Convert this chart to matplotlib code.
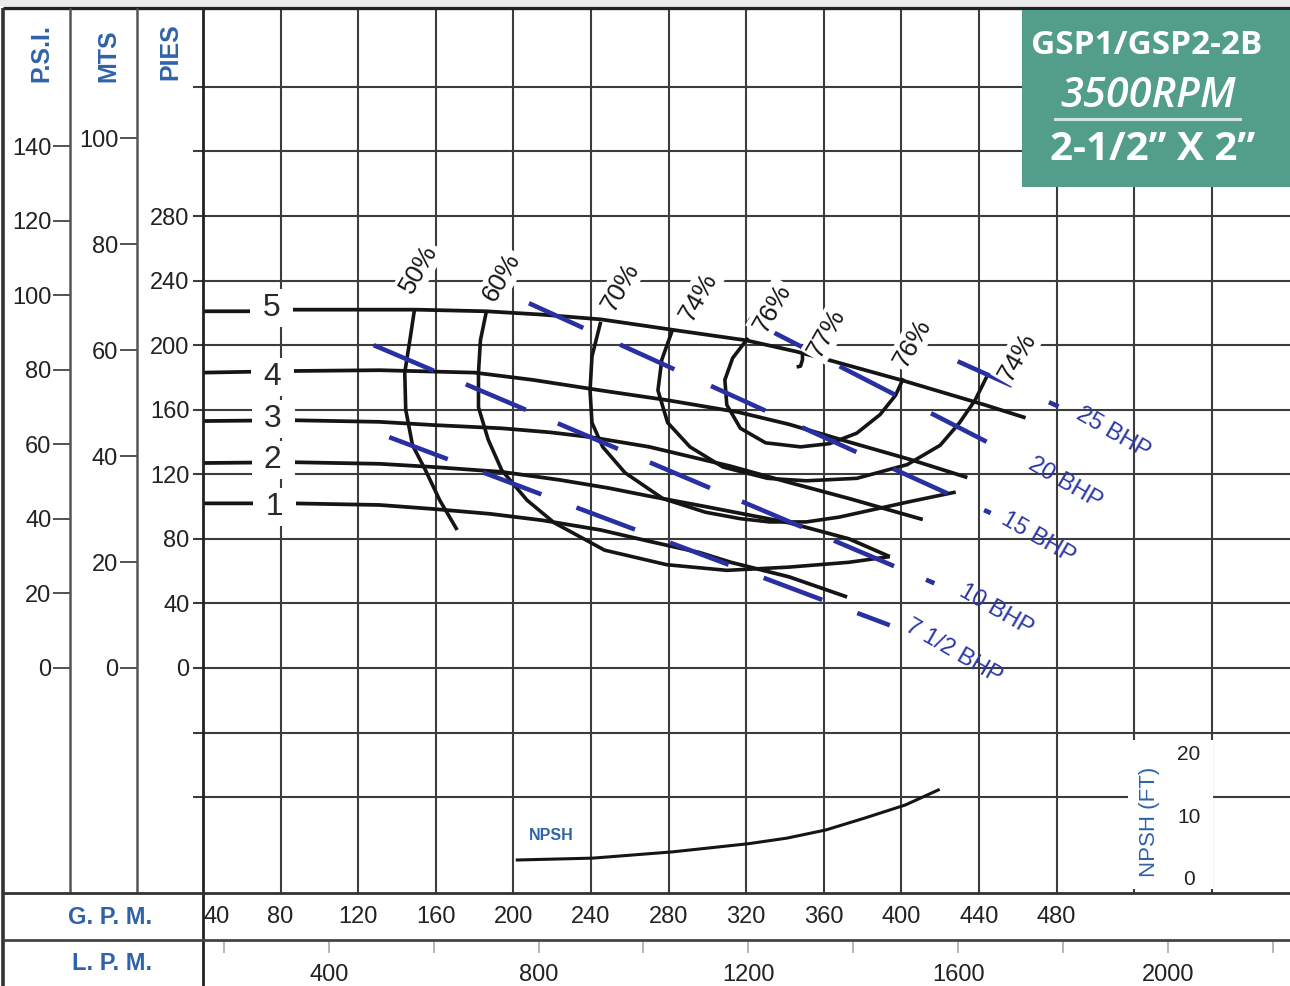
import matplotlib
matplotlib.use("Agg")
import matplotlib.pyplot as plt
import matplotlib.transforms as mtransforms
from matplotlib.lines import Line2D
from matplotlib.patches import Rectangle

plt.rcParams['font.family'] = ['Liberation Sans', 'DejaVu Sans']
plt.rcParams['lines.scale_dashes'] = False

# ---------------- data ----------------
gpm_labels = [40, 80, 120, 160, 200, 240, 280, 320, 360, 400, 440, 480]
gpm_grid = [80, 120, 160, 200, 240, 280, 320, 360, 400, 440, 480, 520, 560]
lpm_ticks = [200, 400, 600, 800, 1000, 1200, 1400, 1600, 1800, 2000, 2200]
lpm_labels = [400, 800, 1200, 1600, 2000]
pies_ticks = [-80, -40, 0, 40, 80, 120, 160, 200, 240, 280, 320, 360]
pies_labels = [0, 40, 80, 120, 160, 200, 240, 280]
psi_labels = [0, 20, 40, 60, 80, 100, 120, 140]
mts_labels = [0, 20, 40, 60, 80, 100]
npsh_labels = [0, 10, 20]

# impeller head curves (GPM, feet)
curve_names = ['5', '4', '3', '2', '1']
c5_gpm = [40, 63, 86, 130, 150, 186, 214, 245, 285, 320, 346, 365, 401, 443, 464]
c5_ft = [221, 221, 222, 222, 222, 221, 219, 216, 209, 203, 196, 190, 178, 163, 155]
c4_gpm = [40, 86, 131, 180, 210, 245, 279, 316, 342, 373, 405, 434]
c4_ft = [183, 184, 184.5, 183, 178.5, 172, 166, 158.5, 151, 140, 129, 118]
c3_gpm = [40, 86, 131, 159, 194, 219, 240, 270, 312, 342, 373, 411]
c3_ft = [153, 153.5, 152.5, 150.5, 148.5, 146, 143, 137, 125, 115, 105, 92]
c2_gpm = [40, 86, 131, 159, 194, 224, 249, 270, 299, 342, 373, 394]
c2_ft = [127, 127.5, 126.5, 124.5, 121.5, 116.5, 111.5, 106.5, 100, 90, 80, 69]
c1_gpm = [40, 86, 131, 159, 188, 215, 245, 270, 296, 312, 342, 372]
c1_ft = [102, 102, 101, 98.5, 95.5, 91.5, 85.5, 78.5, 71.5, 65.5, 56.5, 44]

# efficiency iso-lines
e50_gpm = [149, 147, 144, 144.5, 148, 154.5, 162, 171]
e50_ft = [222, 206, 183, 160, 138, 123, 104, 85.5]
e60_gpm = [186, 183, 182, 182, 187, 194, 207, 221, 247, 279, 310, 342, 373, 394]
e60_ft = [220.5, 203, 183, 161.5, 141.5, 122.5, 104, 90, 73, 64, 60.5, 62.5, 65.5, 69]
e70_gpm = [245, 240.5, 239.5, 240.5, 246, 257.5, 277, 299, 317, 332, 351, 368, 385, 404, 428]
e70_ft = [214.5, 193, 172, 152, 137, 121, 105, 96.5, 92.5, 90.5, 90.5, 93.5, 98, 103, 109]
e74_gpm = [282, 276.5, 274.5, 279.5, 291, 308, 331, 351, 377, 403, 420, 430, 438, 444]
e74_ft = [209.5, 191, 172, 152, 137, 124.5, 117.5, 116, 117.5, 126, 138, 152, 166, 180.5]
e76_gpm = [321, 313, 309, 310, 317, 330, 348, 363, 377, 389, 397, 401]
e76_ft = [204.5, 192, 178.5, 163, 148.5, 139.5, 137, 139, 145.5, 157, 169, 179.5]
e77_gpm = [349, 349, 348, 346]
e77_ft = [198, 191, 187, 186.5]
eff_labels = ['50%', '60%', '70%', '74%', '76%', '77%', '76%', '74%']

# brake horsepower lines (start, end)
bhp_labels = ['25 BHP', '20 BHP', '15 BHP', '10 BHP', '7 1/2 BHP']
bhp_gpm = [(429, 481), (321, 445), (208, 446), (128, 417), (136, 394)]
bhp_ft = [(190, 162), (216, 139.5), (226, 96), (200, 52.5), (143, 26.5)]

# NPSH required (GPM, feet)
npsh_gpm = [202, 241, 282, 321, 341, 361, 381, 402, 419]
npsh_ft = [3.2, 3.5, 4.5, 5.8, 6.7, 8.0, 9.9, 12.0, 14.4]

# ---------------- layout helpers ----------------
W, H = 1290, 986
fig = plt.figure(figsize=(W / 100, H / 100), dpi=100)
fig.patch.set_facecolor('white')


def fx(x):
    return x / W


def fy(y):
    return 1 - y / H


L, R, T, B = 203, 1290, 8, 893
BLUE_T = '#2f63a8'
BLUE_D = '#2830a2'
INK = '#151515'
GRID = '#3c3c3c'

ax = fig.add_axes([fx(L), fy(B), fx(R) - fx(L), fy(T) - fy(B)])
ax.set_xlim(40, 600.3)
ax.set_ylim(-139.4, 408.9)
for s in ax.spines.values():
    s.set_visible(False)
ax.set_axisbelow(True)
ax.set_xticks(gpm_grid)
ax.tick_params(axis='x', length=0, labelbottom=False)
ax.set_yticks(pies_ticks)
ax.set_yticklabels([str(v) if v in pies_labels else '' for v in pies_ticks])
ax.tick_params(axis='y', direction='out', length=7.5, width=1.5, color=GRID,
               labelsize=17, pad=2.2, labelcolor='#222')
ax.grid(True, color=GRID, lw=1.5)

# PSI and MTS scales
ylo, yhi = ax.get_ylim()
for xpos, xnext, factor, ticks in [(70, 137, 1 / 2.31, psi_labels),
                                   (137, 203, 0.3048, mts_labels)]:
    a = fig.add_axes([fx(xpos), fy(B), fx(xnext) - fx(xpos), fy(T) - fy(B)])
    a.set_facecolor('none')
    for s in a.spines.values():
        s.set_visible(False)
    a.set_ylim(ylo * factor, yhi * factor)
    a.set_xticks([])
    a.set_yticks(ticks)
    a.set_yticklabels([str(v) for v in ticks])
    a.tick_params(axis='y', direction='out', length=12.5, width=1.3, color='#444',
                  labelsize=17, pad=1, labelcolor='#222')

# frame lines
def fline(x0, y0, x1, y1, lw=1.8, color='#333'):
    fig.add_artist(Line2D([fx(x0), fx(x1)], [fy(y0), fy(y1)], transform=fig.transFigure,
                          lw=lw, color=color, solid_capstyle='butt', zorder=2))

fig.add_artist(Rectangle((0, fy(6)), 1, fy(0) - fy(6), transform=fig.transFigure,
                         fc='#ebebeb', ec='none', zorder=1))
fline(3, 8, 1290, 8, lw=2.4, color='#222')
fline(3, 8, 3, 986, lw=2.6, color='#333')
fline(70, 8, 70, 893, lw=1.8, color='#555')
fline(137, 8, 137, 893, lw=1.8, color='#555')
fline(203, 8, 203, 986, lw=2.0, color='#222')
fline(3, 893, 1290, 893, lw=2.0, color='#333')
fline(3, 940, 1290, 940, lw=2.0, color='#444')

# header labels
for x, y, t in [(41, 53, 'P.S.I.'), (108, 56, 'MTS'), (170, 52, 'PIES')]:
    fig.text(fx(x), fy(y), t, rotation=90, ha='center', va='center', color=BLUE_T,
             fontsize=18, fontweight='bold')
fig.text(fx(110), fy(918), 'G. P. M.', ha='center', va='center', color=BLUE_T,
         fontsize=17, fontweight='bold')
fig.text(fx(112), fy(963), 'L. P. M.', ha='center', va='center', color=BLUE_T,
         fontsize=17, fontweight='bold')

# GPM tick labels
blend_gpm = mtransforms.blended_transform_factory(ax.transData, fig.transFigure)
for g in gpm_labels:
    tr = blend_gpm
    if g == 40:
        tr = mtransforms.offset_copy(blend_gpm, fig=fig, x=14, y=0, units='dots')
    fig.text(g, fy(917), str(g), transform=tr, ha='center', va='center',
             fontsize=17, color='#222', zorder=1)

# LPM scale
ax_l = fig.add_axes([fx(L), 0, fx(R) - fx(L), fy(940)])
ax_l.set_facecolor('none')
for s in ax_l.spines.values():
    s.set_visible(False)
ax_l.set_xlim(160.2, 2232.6)
ax_l.set_ylim(0, 1)
ax_l.set_yticks([])
ax_l.set_xticks(lpm_ticks)
ax_l.tick_params(axis='x', top=True, bottom=False, labelbottom=False, direction='in',
                 length=9, width=1.2, color='#aaa')
for v in lpm_labels:
    ax_l.text(v, (986 - 975) / 46, str(v), ha='center', va='center', fontsize=17,
              color='#222', transform=mtransforms.blended_transform_factory(
                  ax_l.transData, ax_l.transAxes))

# head curves
heads = [(c5_gpm, c5_ft), (c4_gpm, c4_ft), (c3_gpm, c3_ft), (c2_gpm, c2_ft), (c1_gpm, c1_ft)]
for gx, hy in heads:
    ax.plot(gx, hy, color=INK, lw=2.7, solid_joinstyle='round', solid_capstyle='butt',
            zorder=3)
label_pos = [(75.3, 223.0), (75.8, 180.3), (76.2, 154.3), (76.2, 128.9), (77.0, 99.8)]
for (lx, ly), name in zip(label_pos, curve_names):
    ax.text(lx, ly, ' ' + name + ' ', ha='center', va='center', fontsize=23,
            color='#2a2a2a', zorder=6,
            bbox=dict(boxstyle='square,pad=0.12', fc='white', ec='none'))

# efficiency curves
effs = [(e50_gpm, e50_ft), (e60_gpm, e60_ft), (e70_gpm, e70_ft), (e74_gpm, e74_ft),
        (e76_gpm, e76_ft), (e77_gpm, e77_ft)]
for gx, hy in effs:
    ax.plot(gx, hy, color=INK, lw=2.6, solid_joinstyle='round', solid_capstyle='butt',
            zorder=3)
eff_pos = [(151.3, 247.2), (194.1, 242.3), (255.0, 236.1), (295.2, 229.9),
           (333.3, 223.0), (361.6, 207.6), (405.5, 201.4), (459.6, 192.7)]
for (lx, ly), t in zip(eff_pos, eff_labels):
    ax.text(lx, ly, t, rotation=60, ha='center', va='center', fontsize=18.5, color=INK,
            zorder=6, bbox=dict(boxstyle='square,pad=0.1', fc='white', ec='none'))

# BHP lines
bhp_dash = [(43, 29), (45, 29), (43, 29), (47, 25), (45, 27)]
for (g0, g1), (h0, h1), d in zip(bhp_gpm, bhp_ft, bhp_dash):
    ax.plot([g0, g1], [h0, h1], color=BLUE_D, lw=3.3, dashes=d, dash_capstyle='butt',
            zorder=4)
bhp_pos = [(509.1, 145.6), (484.3, 114.6), (470.4, 80.5), (448.8, 35.9), (427.1, 9.9)]
for (lx, ly), t in zip(bhp_pos, bhp_labels):
    ax.text(lx, ly, t, rotation=-30, ha='center', va='center', fontsize=17,
            color='#2b36a6', zorder=6)

# NPSH area
ax.add_patch(Rectangle((fx(1128), fy(889)), fx(1213) - fx(1128), fy(740) - fy(889),
                       transform=fig.transFigure, fc='white', ec='none', zorder=1))
ax_np = ax.twinx()
ax_np.set_ylim(-2.08, 139.5)
ax_np.axis('off')
ax_np.plot(npsh_gpm, npsh_ft, color=INK, lw=2.2, solid_joinstyle='round', zorder=3)
blend_np = mtransforms.blended_transform_factory(fig.transFigure, ax_np.transData)
for v in npsh_labels:
    ax_np.text(fx(1189), v, str(v), transform=blend_np, ha='center', va='center',
               fontsize=15, color='#222')
fig.text(fx(1150), fy(822), 'NPSH (FT)', rotation=90, ha='center', va='center',
         color=BLUE_T, fontsize=16)
fig.text(fx(551), fy(835), 'NPSH', ha='center', va='center', color=BLUE_T,
         fontsize=11.5, fontweight='bold')

# title box
fig.add_artist(Rectangle((fx(1022), fy(187)), fx(1290) - fx(1022), fy(10) - fy(187),
                         transform=fig.transFigure, fc='#529e8a', ec='none', zorder=3))
fig.text(fx(1147), fy(46), 'GSP1/GSP2-2B', ha='center', va='center', color='white',
         fontsize=24, fontweight='bold', family=['Open Sans', 'DejaVu Sans'], zorder=4)
fig.text(fx(1148), fy(96), '3500RPM', ha='center', va='center', color='white',
         fontsize=30, style='italic', fontweight='semibold',
         family=['Open Sans', 'DejaVu Sans'], zorder=4)
fig.add_artist(Line2D([fx(1055), fx(1240)], [fy(119), fy(119)], transform=fig.transFigure,
                      lw=2.2, color='#cfe6de', zorder=4))
fig.text(fx(1153), fy(150), '2-1/2\u201d X 2\u201d', ha='center', va='center',
         color='white', fontsize=29, fontweight='bold',
         family=['Open Sans', 'DejaVu Sans'], zorder=4)

fig.savefig('out.png', dpi=100, facecolor='white')
